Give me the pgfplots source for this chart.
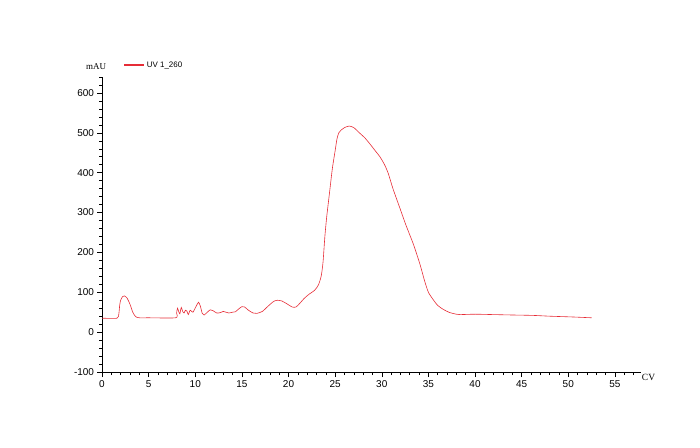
\documentclass[border=0pt]{standalone}
\usepackage{pgfplots}
\pgfplotsset{compat=1.18}
\usepackage{fontspec}
\setmainfont{Liberation Sans}
\newfontfamily\seriffont{Liberation Serif}
\definecolor{uvred}{RGB}{230,45,55}
\begin{document}
\begin{tikzpicture}
\begin{axis}[
  scale only axis, width=539bp, height=295bp,
  xmin=0, xmax=57.8, ymin=-100, ymax=640,
  axis lines*=left,
  clip mode=individual,
  xtick={0,5,...,55}, ytick={-100,0,...,600},
  minor xtick={0,1,...,57}, minor ytick={-100,-80,...,640},
  tick align=outside, major tick length=5bp, minor tick length=3bp,
  every tick/.style={black, line width=0.5bp},
  axis line style={black, line width=0.6bp},
  ticklabel style={font=\fontsize{10}{11}\selectfont},
  yticklabel style={xshift=0.5bp},
  /pgf/number format/assume math mode=true,
  xticklabel style={yshift=-0.5bp},
  legend style={at={(rel axis cs:0.039,1.04)}, anchor=west, draw=none, fill=none,
    font=\fontsize{8}{9}\selectfont, inner sep=0pt},
  legend image code/.code={\draw[line width=1.6bp, uvred] (0bp,0bp) -- (20bp,0bp);},
]
\coordinate (SW) at (rel axis cs:0,0);
\addplot[uvred, line width=0.6bp, smooth, tension=0.4] coordinates {
(0,35) (1.6,35) (1.8,45) (1.9,68) (2.0,80) (2.2,89) (2.4,91) (2.7,85) (3.0,70) (3.3,50) (3.6,39) (4.0,36)
(5,36) (7.9,36) (8.0,48) (8.1,60) (8.25,50) (8.35,46) (8.5,62) (8.65,52) (8.8,48) (8.95,55) (9.1,53)
(9.25,44) (9.45,55) (9.6,52) (9.75,50) (9.9,56) (10.1,65) (10.35,75) (10.55,65) (10.75,47) (10.95,43)
(11.3,50) (11.6,56) (11.9,54) (12.3,48) (12.7,49) (13.0,52) (13.3,50) (13.6,48) (14.0,50) (14.3,51)
(14.6,57) (15.0,64) (15.3,63) (15.7,55) (16.2,48) (16.6,47) (17.2,52) (17.8,65) (18.4,77) (18.8,80)
(19.3,78) (19.9,70) (20.4,63) (20.8,63) (21.2,72) (21.7,85) (22.2,95) (22.8,105) (23.2,118) (23.5,140)
(23.7,175) (23.9,240) (24.1,290) (24.4,350) (24.7,410) (25.0,455) (25.2,485) (25.4,500) (25.7,508)
(26.0,513) (26.5,517) (27.0,513) (27.6,500) (28.2,487) (28.8,470) (29.3,455) (29.8,440) (30.3,420)
(30.7,398) (31.2,360) (31.9,314) (32.6,268) (33.4,220) (34.1,170) (34.6,128) (35.0,100) (35.5,82)
(36.0,67) (36.6,57) (37.3,49) (38.0,45) (38.4,44) (40,45) (42,44) (44,43) (46.2,42) (48,40) (50.5,38) (52.5,36)
};
\addlegendentry{UV 1\_260}
\node[font=\seriffont\fontsize{9}{10}\selectfont] at (rel axis cs:-0.011,1.037) {mAU};
\node[font=\seriffont\fontsize{9.5}{10}\selectfont] at (rel axis cs:1.014,-0.02) {CV};
\end{axis}
\pgfresetboundingbox
\path[use as bounding box] (SW) ++(-102bp,-76bp) rectangle ++(700bp,448bp);
\end{tikzpicture}
\end{document}
